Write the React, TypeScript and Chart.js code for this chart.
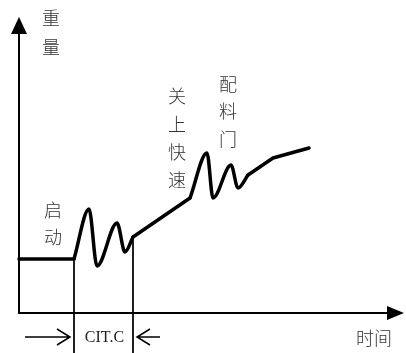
import React, { useEffect, useRef } from "react";
import { Chart, registerables } from "chart.js";

Chart.register(...registerables);

// time (x) and weight (y) values of each part of the curve
const flatTime = [0, 55];
const flatWeight = [54, 54];
const startWaveTime = [55, 70, 78, 98, 106, 114];
const startWaveWeight = [54, 104, 47, 90, 61, 76];
const rampTime = [114, 171];
const rampWeight = [76, 115];
const doorWaveTime = [171, 188, 194, 212, 219, 229];
const doorWaveWeight = [115, 160, 115, 148, 125, 138];
const tailTime = [229, 254, 290];
const tailWeight = [138, 155, 165];

// marker lines bounding CIT.C
const markerTimes = [55, 114];
const markerTops = [54, 76];

const yAxisLabel = ["重", "量"];
const xAxisLabel = "时间";
const startLabel = ["启", "动"];
const closeLabel = ["关", "上", "快", "速"];
const doorLabel = ["配", "料", "门"];
const citLabel = "CIT.C";

const toPts = (t: number[], w: number[]) => t.map((x, i) => ({ x, y: w[i] }));

export default function App() {
  const ref = useRef<HTMLCanvasElement>(null);
  useEffect(() => {
    document.body.style.margin = "0";
    const canvas = ref.current!;
    const thick = (t: number[], w: number[], smooth: boolean) => ({
      data: toPts(t, w),
      borderColor: "#000",
      borderWidth: 3.5,
      pointRadius: 0,
      fill: false,
      cubicInterpolationMode: smooth ? ("monotone" as const) : ("default" as const),
      tension: 0,
      borderCapStyle: "round" as const,
      borderJoinStyle: "round" as const,
    });
    const markers = markerTimes.map((t, i) => ({
      data: [
        { x: t, y: markerTops[i] },
        { x: t, y: -40 },
      ],
      borderColor: "#000",
      borderWidth: 1,
      pointRadius: 0,
      fill: false,
    }));

    const deco = {
      id: "deco",
      afterDatasetsDraw(chart: any) {
        const ctx = chart.ctx as CanvasRenderingContext2D;
        const xs = chart.scales.x;
        const ys = chart.scales.y;
        const X = (v: number) => xs.getPixelForValue(v);
        const Y = (v: number) => ys.getPixelForValue(v);
        ctx.save();
        ctx.strokeStyle = "#000";
        ctx.fillStyle = "#000";
        // axes
        ctx.lineWidth = 2;
        ctx.beginPath();
        ctx.moveTo(X(0), Y(0));
        ctx.lineTo(X(0), Y(282));
        ctx.moveTo(X(-1), Y(0));
        ctx.lineTo(X(370), Y(0));
        ctx.stroke();
        // y arrow head
        ctx.beginPath();
        ctx.moveTo(X(0), Y(296));
        ctx.lineTo(X(-8), Y(279));
        ctx.lineTo(X(8), Y(279));
        ctx.closePath();
        ctx.fill();
        // x arrow head
        ctx.beginPath();
        ctx.moveTo(X(385), Y(0));
        ctx.lineTo(X(368), Y(7));
        ctx.lineTo(X(368), Y(-7));
        ctx.closePath();
        ctx.fill();
        // bottom open arrows
        ctx.lineWidth = 1.5;
        const ay = -24;
        ctx.beginPath();
        ctx.moveTo(X(6), Y(ay));
        ctx.lineTo(X(51), Y(ay));
        ctx.moveTo(X(38), Y(ay + 8));
        ctx.lineTo(X(51), Y(ay));
        ctx.lineTo(X(38), Y(ay - 8));
        ctx.moveTo(X(141), Y(ay));
        ctx.lineTo(X(118), Y(ay));
        ctx.moveTo(X(131), Y(ay + 8));
        ctx.lineTo(X(118), Y(ay));
        ctx.lineTo(X(131), Y(ay - 8));
        ctx.stroke();
        // texts
        ctx.textAlign = "center";
        ctx.textBaseline = "middle";
        ctx.fillStyle = "#333";
        ctx.font = '300 18px "Noto Sans CJK SC", sans-serif';
        const col = (chars: string[], t: number, w0: number, step: number) =>
          chars.forEach((c, i) => ctx.fillText(c, X(t), Y(w0 - i * step)));
        col(yAxisLabel, 32, 295, 29);
        col(startLabel, 34, 103, 27);
        col(closeLabel, 158, 217, 28);
        col(doorLabel, 209, 229, 27.5);
        ctx.fillText(xAxisLabel, X(355), Y(-25));
        ctx.fillStyle = "#222";
        ctx.font = '16px "Liberation Serif", serif';
        ctx.fillText(citLabel, X(85.5), Y(-25));
        ctx.restore();
      },
    };

    const chart = new Chart(canvas, {
      type: "line",
      data: {
        datasets: [
          thick(flatTime, flatWeight, false),
          thick(startWaveTime, startWaveWeight, true),
          thick(rampTime, rampWeight, false),
          thick(doorWaveTime, doorWaveWeight, true),
          thick(tailTime, tailWeight, false),
          ...markers,
        ] as any,
      },
      options: {
        responsive: false,
        animation: false,
        devicePixelRatio: 1,
        layout: { padding: 0 },
        plugins: { legend: { display: false }, tooltip: { enabled: false } },
        scales: {
          x: { type: "linear", min: -19, max: 387, display: false },
          y: { type: "linear", min: -40, max: 313, display: false },
        },
      },
      plugins: [deco],
    });
    return () => chart.destroy();
  }, []);
  return (
    <div style={{ position: "fixed", left: 0, top: 0, width: 406, height: 353, background: "#fff" }}>
      <canvas ref={ref} width={406} height={353} />
    </div>
  );
}
